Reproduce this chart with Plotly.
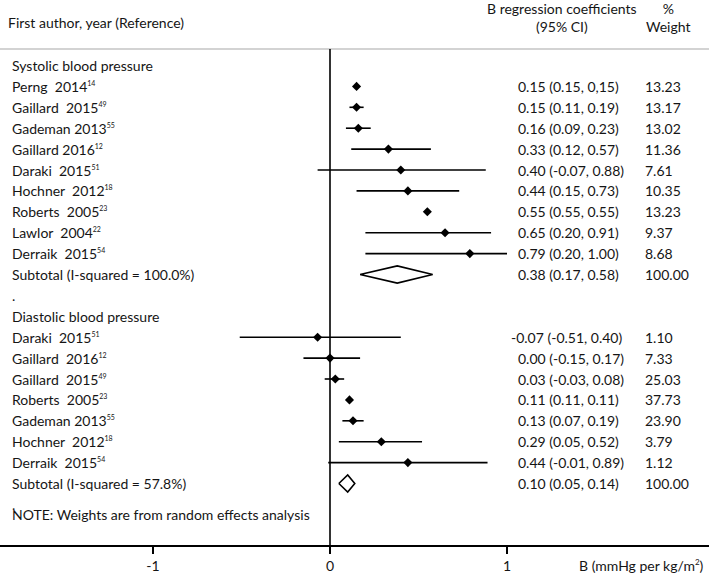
import plotly.graph_objects as go

# ---------------- data ----------------
DS = "\u00a0 "  # double space as in the reference labels
sys_studies = ["Perng" + DS + "2014", "Gaillard" + DS + "2015", "Gademan 2013", "Gaillard 2016",
               "Daraki" + DS + "2015", "Hochner" + DS + "2012", "Roberts" + DS + "2005",
               "Lawlor" + DS + "2004", "Derraik" + DS + "2015"]
sys_refs = ["14", "49", "55", "12", "51", "18", "23", "22", "54"]
sys_est = [0.15, 0.15, 0.16, 0.33, 0.40, 0.44, 0.55, 0.65, 0.79]
sys_lo = [0.15, 0.11, 0.09, 0.12, -0.07, 0.15, 0.55, 0.20, 0.20]
sys_hi = [0.15, 0.19, 0.23, 0.57, 0.88, 0.73, 0.55, 0.91, 1.00]
sys_ci_text = ["0.15 (0.15, 0,15)", "0.15 (0.11, 0.19)", "0.16 (0.09, 0.23)", "0.33 (0.12, 0.57)",
               "0.40 (-0.07, 0.88)", "0.44 (0.15, 0.73)", "0.55 (0.55, 0.55)", "0.65 (0.20, 0.91)",
               "0.79 (0.20, 1.00)"]
sys_weight = ["13.23", "13.17", "13.02", "11.36", "7.61", "10.35", "13.23", "9.37", "8.68"]
sys_sub = {"label": "Subtotal (I-squared = 100.0%)", "est": 0.38, "lo": 0.17, "hi": 0.58,
           "text": "0.38 (0.17, 0.58)", "weight": "100.00"}

dia_studies = ["Daraki" + DS + "2015", "Gaillard" + DS + "2016", "Gaillard" + DS + "2015",
               "Roberts" + DS + "2005", "Gademan 2013", "Hochner" + DS + "2012",
               "Derraik" + DS + "2015"]
dia_refs = ["51", "12", "49", "23", "55", "18", "54"]
dia_est = [-0.07, 0.00, 0.03, 0.11, 0.13, 0.29, 0.44]
dia_lo = [-0.51, -0.15, -0.03, 0.11, 0.07, 0.05, -0.01]
dia_hi = [0.40, 0.17, 0.08, 0.11, 0.19, 0.52, 0.89]
dia_ci_text = ["-0.07 (-0.51, 0.40)", "0.00 (-0.15, 0.17)", "0.03 (-0.03, 0.08)", "0.11 (0.11, 0.11)",
               "0.13 (0.07, 0.19)", "0.29 (0.05, 0.52)", "0.44 (-0.01, 0.89)"]
dia_weight = ["1.10", "7.33", "25.03", "37.73", "23.90", "3.79", "1.12"]
dia_sub = {"label": "Subtotal (I-squared = 57.8%)", "est": 0.10, "lo": 0.05, "hi": 0.14,
           "text": "0.10 (0.05, 0.14)", "weight": "100.00"}

x_ticks = [-1, 0, 1]
x_tick_labels = ["-1", "0", "1"]

# ---------------- layout helpers ----------------
FONT = "Lato, 'Open Sans', sans-serif"
FS = 14
W, H = 709, 573
TOP, BOT = 49, 28
ROW0, ROWH = 65.5, 20.9
PX0, PXU = 330.0, 177.0  # pixel of x=0, pixels per unit
TXT = "#151515"


def py2row(py):
    return (py - ROW0) / ROWH


fig = go.Figure()
annotations = []


def txt(x_px, row, text, anchor="left"):
    annotations.append(dict(x=x_px / W, xref="paper", y=row, yref="y", text=text,
                            showarrow=False, xanchor=anchor, yanchor="middle",
                            font=dict(family=FONT, size=FS, color=TXT)))


def add_group(start, header, studies, refs, est, lo, hi, ci_text, weights, sub):
    txt(10, start, header)
    rows = []
    for i in range(len(studies)):
        r = start + 1 + i
        rows.append(r)
        txt(10, r, f"{studies[i]}<sup><span style='font-size:7px'>{refs[i]}</span></sup>")
        shift = 7 if est[i] < 0 else 0
        txt(516 - shift, r, ci_text[i])
        txt(643, r, weights[i])
        fig.add_trace(go.Scatter(x=[lo[i], hi[i]], y=[r, r], mode="lines",
                                 line=dict(color="black", width=1.6),
                                 showlegend=False, hoverinfo="skip"))
    fig.add_trace(go.Scatter(x=est, y=rows, mode="markers",
                             marker=dict(symbol="diamond", size=7, color="black"),
                             showlegend=False, hoverinfo="skip"))
    rs = start + 1 + len(studies)
    txt(10, rs, sub["label"])
    txt(516, rs, sub["text"])
    txt(643, rs, sub["weight"])
    h = 0.41
    fig.add_trace(go.Scatter(x=[sub["lo"], sub["est"], sub["hi"], sub["est"], sub["lo"]],
                             y=[rs, rs - h, rs, rs + h, rs], mode="lines",
                             line=dict(color="black", width=1.6),
                             showlegend=False, hoverinfo="skip"))
    return rs


r_end = add_group(0, "Systolic blood pressure", sys_studies, sys_refs, sys_est, sys_lo,
                  sys_hi, sys_ci_text, sys_weight, sys_sub)
txt(10, r_end + 1, ".")
r_end2 = add_group(r_end + 2, "Diastolic blood pressure", dia_studies, dia_refs, dia_est,
                   dia_lo, dia_hi, dia_ci_text, dia_weight, dia_sub)
txt(10, r_end2 + 1, ".")
txt(10, r_end2 + 1.5, "NOTE: Weights are from random effects analysis")

# header
def head(x_px, y_px, text, anchor="center"):
    annotations.append(dict(x=x_px / W, xref="paper", y=1 + (TOP - y_px) / (H - TOP - BOT),
                            yref="paper", text=text, showarrow=False, xanchor=anchor,
                            yanchor="middle", align="center",
                            font=dict(family=FONT, size=FS, color=TXT)))

head(6, 23, "First author, year (Reference)", "left")
head(562, 17.5, "B regression coefficients<br>(95% CI)")
head(668, 17.5, "%<br>Weight")

# axis title
annotations.append(dict(x=706 / W, xref="paper", y=-(565 - (H - BOT)) / (H - TOP - BOT),
                        yref="paper",
                        text="B (mmHg per kg/m<sup><span style='font-size:8px'>2</span></sup>)",
                        showarrow=False, xanchor="right", yanchor="middle",
                        font=dict(family=FONT, size=FS, color=TXT)))

shapes = [
    dict(type="line", xref="paper", yref="paper", x0=0, x1=1, y0=1, y1=1,
         line=dict(color="#c4c4c4", width=1.5)),
    dict(type="line", xref="x", yref="paper", x0=0, x1=0, y0=0, y1=1,
         line=dict(color="black", width=1.6)),
]

fig.update_layout(
    width=W, height=H,
    margin=dict(l=0, r=0, t=TOP, b=BOT),
    paper_bgcolor="white", plot_bgcolor="white",
    font=dict(family=FONT, size=FS, color=TXT),
    xaxis=dict(range=[(0 - PX0) / PXU, (W - PX0) / PXU], tickvals=x_ticks, ticktext=x_tick_labels,
               showgrid=False, zeroline=False, showline=True, linecolor="black", linewidth=1.6,
               ticks="outside", ticklen=7, tickwidth=1.6, tickcolor="black",
               tickfont=dict(family=FONT, size=FS, color=TXT)),
    yaxis=dict(range=[py2row(H - BOT), py2row(TOP)], visible=False, showgrid=False,
               zeroline=False),
    annotations=annotations,
    shapes=shapes,
)

fig.write_html("out.html", config={"displayModeBar": False},
               post_script="document.body.style.margin='0';"
                           "document.body.style.overflow='hidden';")
